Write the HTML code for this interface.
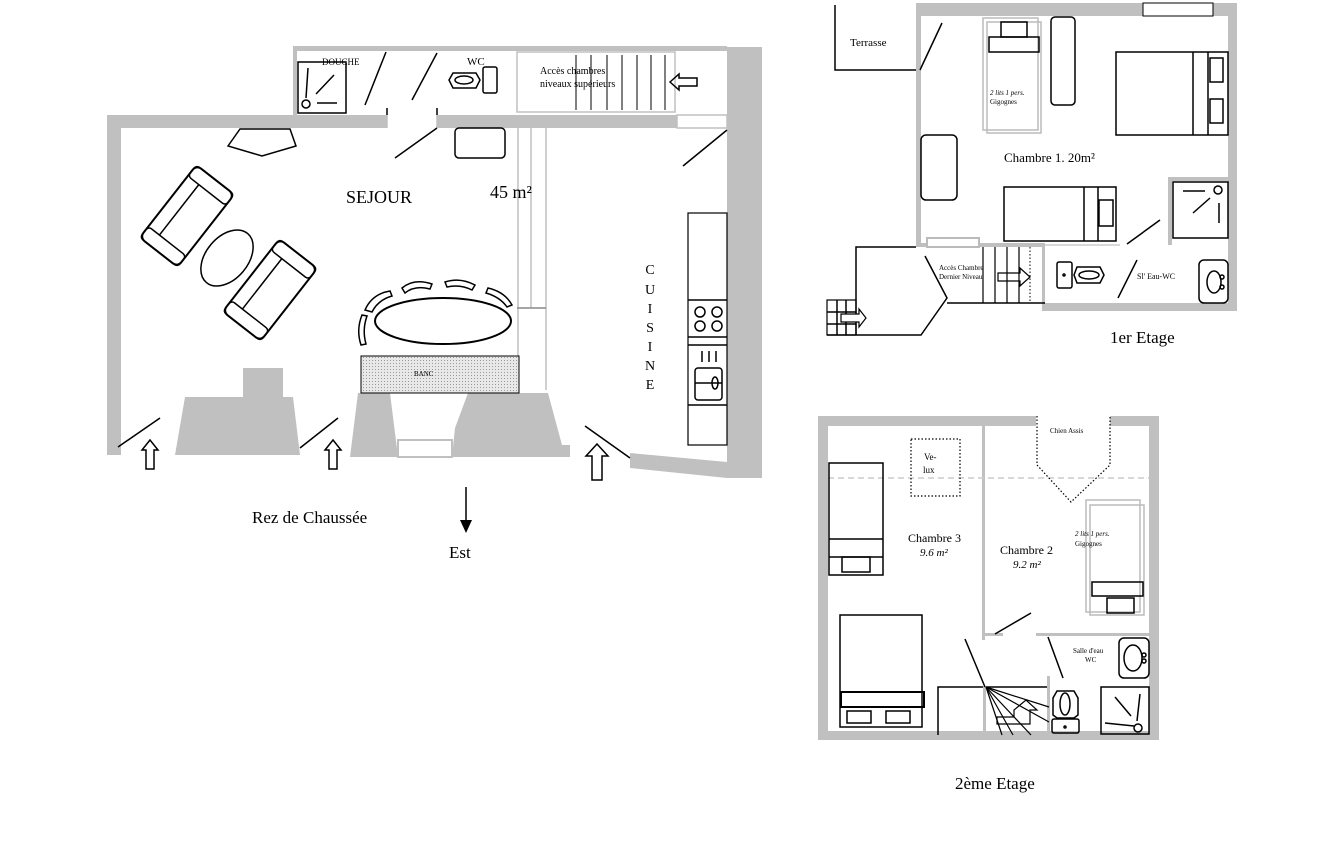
<!DOCTYPE html>
<html><head><meta charset="utf-8"><style>
html,body{margin:0;padding:0;background:#fff}
svg{display:block}
text{font-family:"Liberation Serif",serif;fill:#000}
</style></head><body>
<svg width="1330" height="864" viewBox="0 0 1330 864" xmlns="http://www.w3.org/2000/svg">
<defs>
<pattern id="dots" width="3" height="3" patternUnits="userSpaceOnUse"><rect width="3" height="3" fill="#e8e8e8"/><rect width="1" height="1" fill="#999"/></pattern>
</defs>
<rect width="1330" height="864" fill="#fff"/>

<!-- ========== REZ DE CHAUSSEE ========== -->
<g fill="#c0c0c0" stroke="none">
  <rect x="293" y="46" width="434" height="5"/>
  <rect x="293" y="46" width="4" height="70"/>
  <rect x="107" y="115" width="280" height="13"/>
  <rect x="437" y="115" width="240" height="13"/>
  <rect x="107" y="115" width="14" height="340"/>
  <rect x="727" y="47" width="35" height="431"/>
  <polygon points="630,453 727,462 727,478 630,468"/>
  <polygon points="185,397 243,397 243,368 283,368 283,397 293,397 300,455 175,455"/>
  <polygon points="358,393 390,393 398,457 350,457"/>
  <polygon points="468,393 548,393 562,445 570,445 570,457 452,457 455,428"/>
</g>
<rect x="398" y="440" width="54" height="17" fill="#fff" stroke="#c0c0c0" stroke-width="2"/>
<g stroke="#c0c0c0" stroke-width="1.5" fill="none">
  <line x1="518" y1="128" x2="518" y2="390"/><line x1="531" y1="128" x2="531" y2="308"/><line x1="546" y1="128" x2="546" y2="390"/>
  <line x1="517" y1="308" x2="546" y2="308" stroke="#888"/>
  <rect x="517" y="52" width="158" height="60"/>
  <line x1="387" y1="115" x2="387" y2="128"/><line x1="437" y1="115" x2="437" y2="128"/>
  <rect x="677" y="115" width="50" height="13"/>
</g>
<g stroke="#000" stroke-width="1.5" fill="none">
  <rect x="298" y="62" width="48" height="51"/>
  <line x1="308" y1="68" x2="306" y2="98"/><line x1="316" y1="94" x2="334" y2="75"/><line x1="317" y1="103" x2="337" y2="103"/>
  <circle cx="306" cy="104" r="4"/>
  <line x1="365" y1="105" x2="386" y2="52"/><line x1="412" y1="100" x2="437" y2="53"/>
  <line x1="387" y1="108" x2="387" y2="115"/><line x1="437" y1="108" x2="437" y2="115"/>
  <polygon points="453,73 476,73 480,80 476,88 453,88 449,80"/>
  <ellipse cx="464" cy="80" rx="9" ry="4"/>
  <rect x="483" y="67" width="14" height="26" rx="2"/>
  <g stroke-width="1"><line x1="576" y1="55" x2="576" y2="110"/><line x1="591" y1="55" x2="591" y2="110"/><line x1="607" y1="55" x2="607" y2="110"/><line x1="622" y1="55" x2="622" y2="110"/><line x1="637" y1="55" x2="637" y2="110"/><line x1="651" y1="55" x2="651" y2="110"/><line x1="665" y1="55" x2="665" y2="110"/></g>
  <polygon points="670,82 679,74 679,78 697,78 697,86 679,86 679,90" stroke-width="1.5"/>
  <polygon points="228,146 240,129 290,129 296,146 262,156"/>
  <rect x="455" y="128" width="50" height="30" rx="4"/>
  <line x1="395" y1="158" x2="437" y2="128"/>
  <line x1="683" y1="166" x2="727" y2="130"/>
  <g transform="translate(187,216) rotate(-52)">
    <rect x="-46" y="-24" width="92" height="48" rx="6" stroke-width="2"/>
    <rect x="-46" y="-24" width="14" height="48" rx="4"/><rect x="32" y="-24" width="14" height="48" rx="4"/>
    <line x1="-32" y1="-10" x2="32" y2="-10"/>
  </g>
  <g transform="translate(270,290) rotate(-52)">
    <rect x="-46" y="-24" width="92" height="48" rx="6" stroke-width="2"/>
    <rect x="-46" y="-24" width="14" height="48" rx="4"/><rect x="32" y="-24" width="14" height="48" rx="4"/>
    <line x1="-32" y1="-10" x2="32" y2="-10"/>
  </g>
  <ellipse cx="227" cy="258" rx="21" ry="32" transform="rotate(40 227 258)"/>
  <ellipse cx="443" cy="321" rx="68" ry="23" stroke-width="2"/>
  <path d="M365,310 Q372,294 390,291 L392,296 Q378,300 372,312 Z"/>
  <path d="M402,288 Q414,278 432,284 L430,289 Q415,285 405,293 Z"/>
  <path d="M445,282 Q460,277 475,285 L472,290 Q460,284 447,287 Z"/>
  <path d="M488,288 Q505,292 512,305 L507,307 Q500,297 486,293 Z"/>
  <path d="M362,315 Q356,330 361,345 L366,344 Q362,330 367,316 Z"/>
  <line x1="118" y1="447" x2="160" y2="418"/>
  <line x1="300" y1="448" x2="338" y2="418"/>
  <line x1="585" y1="426" x2="630" y2="458"/>
  <polygon points="150,440 158,450 154,450 154,469 146,469 146,450 142,450" stroke-width="1.5"/>
  <polygon points="333,440 341,450 337,450 337,469 329,469 329,450 325,450" stroke-width="1.5"/>
  <polygon points="597,444 608,456 602,456 602,480 592,480 592,456 586,456" stroke-width="1.5"/>
  <rect x="688" y="213" width="39" height="232" stroke-width="1.2"/>
  <line x1="688" y1="300" x2="727" y2="300"/><line x1="688" y1="337" x2="727" y2="337"/><line x1="688" y1="345" x2="727" y2="345"/><line x1="688" y1="405" x2="727" y2="405"/>
  <circle cx="700" cy="312" r="5"/><circle cx="717" cy="312" r="5"/><circle cx="700" cy="326" r="5"/><circle cx="717" cy="326" r="5"/>
  <rect x="695" y="368" width="27" height="32" rx="3"/><line x1="695" y1="383" x2="722" y2="383"/>
  <line x1="702" y1="351" x2="702" y2="362"/><line x1="709" y1="351" x2="709" y2="362"/><line x1="716" y1="351" x2="716" y2="362"/>
  <ellipse cx="715" cy="383" rx="3" ry="6"/>
</g>
<rect x="361" y="356" width="158" height="37" fill="url(#dots)" stroke="#000" stroke-width="1"/>
<text x="414" y="376" font-size="7">BANC</text>
<line x1="466" y1="487" x2="466" y2="522" stroke="#000" stroke-width="1.5"/>
<polygon points="460,520 472,520 466,533" fill="#000"/>
<text x="322" y="65" font-size="9">DOUCHE</text>
<text x="467" y="65" font-size="11">WC</text>
<text x="540" y="74" font-size="10">Accès chambres</text>
<text x="540" y="87" font-size="10">niveaux supérieurs</text>
<text x="346" y="203" font-size="18">SEJOUR</text>
<text x="490" y="198" font-size="18">45 m²</text>
<g font-size="14" text-anchor="middle"><text x="650" y="274">C</text><text x="650" y="294">U</text><text x="650" y="313">I</text><text x="650" y="332">S</text><text x="650" y="351">I</text><text x="650" y="370">N</text><text x="650" y="389">E</text></g>
<text x="252" y="523" font-size="17">Rez de Chaussée</text>
<text x="449" y="558" font-size="17">Est</text>

<!-- ========== 1er ETAGE ========== -->
<g fill="#c0c0c0">
  <rect x="916" y="3" width="321" height="13"/>
  <rect x="1228" y="3" width="9" height="308"/>
  <rect x="916" y="3" width="5" height="244"/>
  <rect x="921" y="243" width="124" height="4"/>
  <rect x="1042" y="243" width="3" height="68"/>
  <rect x="1042" y="303" width="195" height="8"/>
  <rect x="1168" y="177" width="4" height="68"/>
  <rect x="1168" y="177" width="60" height="4"/>
</g>
<rect x="1143" y="3" width="70" height="13" fill="#fff" stroke="#000" stroke-width="1"/>
<rect x="927" y="238" width="52" height="9" fill="#fff" stroke="#bbb" stroke-width="2"/>
<line x1="1045" y1="245" x2="1120" y2="245" stroke="#ccc" stroke-width="1.5"/>
<g stroke="#000" stroke-width="1.5" fill="none">
  <polyline points="835,5 835,70 916,70"/>
  <line x1="920" y1="70" x2="942" y2="23"/>
  <rect x="983" y="18" width="55" height="112" stroke="#bbb"/>
  <rect x="987" y="22" width="54" height="111" stroke="#bbb"/>
  <rect x="989" y="37" width="50" height="15"/>
  <rect x="1001" y="22" width="26" height="15"/>
  <rect x="1051" y="17" width="24" height="88" rx="4"/>
  <rect x="1116" y="52" width="112" height="83"/>
  <line x1="1193" y1="52" x2="1193" y2="135"/><line x1="1208" y1="52" x2="1208" y2="135"/>
  <rect x="1210" y="58" width="13" height="24"/><rect x="1210" y="99" width="13" height="24"/>
  <rect x="921" y="135" width="36" height="65" rx="5"/>
  <rect x="1004" y="187" width="112" height="54"/>
  <line x1="1084" y1="187" x2="1084" y2="241"/><line x1="1098" y1="187" x2="1098" y2="241"/>
  <rect x="1099" y="200" width="14" height="26"/>
  <rect x="1173" y="182" width="55" height="56"/>
  <line x1="1183" y1="191" x2="1205" y2="191"/><circle cx="1218" cy="190" r="4"/>
  <line x1="1193" y1="213" x2="1210" y2="198"/><line x1="1219" y1="203" x2="1219" y2="223"/>
  <line x1="1127" y1="244" x2="1160" y2="220"/>
  <line x1="1118" y1="298" x2="1137" y2="260"/>
  <rect x="1057" y="262" width="15" height="26" rx="2"/><circle cx="1064" cy="275" r="1"/>
  <polygon points="1077,267 1100,267 1104,275 1100,283 1077,283 1074,275"/>
  <ellipse cx="1089" cy="275" rx="10" ry="4"/>
  <rect x="1199" y="260" width="29" height="43" rx="5"/>
  <ellipse cx="1214" cy="282" rx="7" ry="11"/><circle cx="1222" cy="277" r="2"/><circle cx="1222" cy="287" r="2"/>
  <polyline points="856,335 856,247 916,247"/>
  <polyline points="925,256 947,298 921,335 827,335"/>
  <line x1="947" y1="303" x2="1045" y2="303"/>
  <g stroke-width="1.2"><line x1="983" y1="247" x2="983" y2="303"/><line x1="995" y1="247" x2="995" y2="303"/><line x1="1007" y1="247" x2="1007" y2="303"/><line x1="1019" y1="247" x2="1019" y2="303"/></g>
  <line x1="1030" y1="247" x2="1030" y2="303" stroke-dasharray="1.5,2" stroke-width="1"/>
  <polygon points="998,273 1020,273 1020,268 1030,277 1020,286 1020,281 998,281" stroke-width="1.2"/>
  <rect x="827" y="300" width="29" height="35" stroke-width="1.2"/>
  <line x1="837" y1="300" x2="837" y2="335"/><line x1="846" y1="300" x2="846" y2="335"/>
  <line x1="827" y1="312" x2="856" y2="312"/><line x1="827" y1="324" x2="856" y2="324"/>
  <polygon points="841,314 859,314 859,309 866,318 859,327 859,322 841,322" fill="#fff" stroke-width="1.2"/>
</g>
<text x="850" y="46" font-size="11">Terrasse</text>
<text x="990" y="95" font-size="7" font-style="italic">2 lits 1 pers.</text>
<text x="990" y="104" font-size="7">Gigognes</text>
<text x="1004" y="162" font-size="13">Chambre 1. 20m²</text>
<text x="939" y="270" font-size="7">Accès Chambre</text>
<text x="939" y="279" font-size="7">Dernier Niveau</text>
<text x="1137" y="279" font-size="8">Sl' Eau-WC</text>
<text x="1110" y="343" font-size="17">1er Etage</text>

<!-- ========== 2eme ETAGE ========== -->
<g fill="#c0c0c0">
  <rect x="818" y="416" width="341" height="10"/>
  <rect x="818" y="416" width="10" height="324"/>
  <rect x="1149" y="416" width="10" height="324"/>
  <rect x="818" y="731" width="341" height="9"/>
  <rect x="982" y="426" width="3" height="214"/>
  <rect x="983" y="633" width="20" height="3"/>
  <rect x="1036" y="633" width="113" height="3"/>
  <rect x="983" y="686" width="3" height="45"/>
  <rect x="1047" y="676" width="3" height="55"/>
</g>
<rect x="1036" y="416" width="74" height="10" fill="#fff"/>
<line x1="828" y1="478" x2="1149" y2="478" stroke="#ccc" stroke-width="1.5" stroke-dasharray="6,4"/>
<g stroke="#000" stroke-width="1.5" fill="none">
  <polyline points="1037,416 1037,465 1071,502 1110,465 1110,416" stroke-dasharray="1.5,2" stroke-width="1.2"/>
  <rect x="911" y="439" width="49" height="57" stroke-dasharray="1.5,2" stroke-width="1.2"/>
  <rect x="829" y="463" width="54" height="112"/>
  <line x1="829" y1="539" x2="883" y2="539"/><line x1="829" y1="557" x2="883" y2="557"/>
  <rect x="842" y="557" width="28" height="15"/>
  <rect x="1086" y="500" width="54" height="112" stroke="#bbb"/>
  <rect x="1090" y="505" width="54" height="110" stroke="#bbb"/>
  <rect x="1092" y="582" width="51" height="14"/>
  <rect x="1107" y="598" width="27" height="15"/>
  <line x1="995" y1="634" x2="1031" y2="613"/>
  <rect x="840" y="615" width="82" height="112"/>
  <rect x="841" y="692" width="83" height="15" stroke-width="2"/>
  <rect x="847" y="711" width="24" height="12"/><rect x="886" y="711" width="24" height="12"/>
  <polyline points="938,735 938,687 983,687"/>
  <line x1="986" y1="687" x2="1047" y2="687"/>
  <line x1="965" y1="639" x2="985" y2="687"/>
  <g stroke-width="1.2">
    <line x1="986" y1="687" x2="1049" y2="707"/><line x1="986" y1="687" x2="1049" y2="722"/>
    <line x1="986" y1="687" x2="1031" y2="735"/><line x1="986" y1="687" x2="1013" y2="735"/><line x1="986" y1="687" x2="1002" y2="735"/>
  </g>
  <polygon points="997,717 1014,717 1014,710 1026,700 1037,710 1030,710 1030,724 997,724" stroke-width="1.2"/>
  <line x1="1048" y1="637" x2="1063" y2="678"/>
  <rect x="1119" y="638" width="30" height="40" rx="5"/>
  <ellipse cx="1133" cy="658" rx="9" ry="13"/><circle cx="1144" cy="655" r="2"/><circle cx="1144" cy="661" r="2"/>
  <rect x="1101" y="687" width="48" height="47"/>
  <line x1="1115" y1="697" x2="1131" y2="716"/><line x1="1140" y1="694" x2="1137" y2="721"/><line x1="1105" y1="723" x2="1134" y2="726"/><circle cx="1138" cy="728" r="4"/>
  <polygon points="1057,691 1074,691 1078,698 1078,715 1074,718 1057,718 1053,715 1053,698"/>
  <ellipse cx="1065" cy="704" rx="5" ry="11"/>
  <rect x="1052" y="719" width="27" height="14" rx="2"/><circle cx="1065" cy="727" r="1"/>
</g>
<text x="1050" y="433" font-size="7">Chien Assis</text>
<text x="924" y="460" font-size="9">Ve-</text>
<text x="923" y="473" font-size="9">lux</text>
<text x="908" y="542" font-size="12">Chambre 3</text>
<text x="920" y="556" font-size="11" font-style="italic">9.6 m²</text>
<text x="1000" y="554" font-size="12">Chambre 2</text>
<text x="1013" y="568" font-size="11" font-style="italic">9.2 m²</text>
<text x="1075" y="536" font-size="7" font-style="italic">2 lits 1 pers.</text>
<text x="1075" y="546" font-size="7">Gigognes</text>
<text x="1073" y="653" font-size="7">Salle d'eau</text>
<text x="1085" y="662" font-size="7">WC</text>
<text x="955" y="789" font-size="17">2ème Etage</text>
</svg>
</body></html>
